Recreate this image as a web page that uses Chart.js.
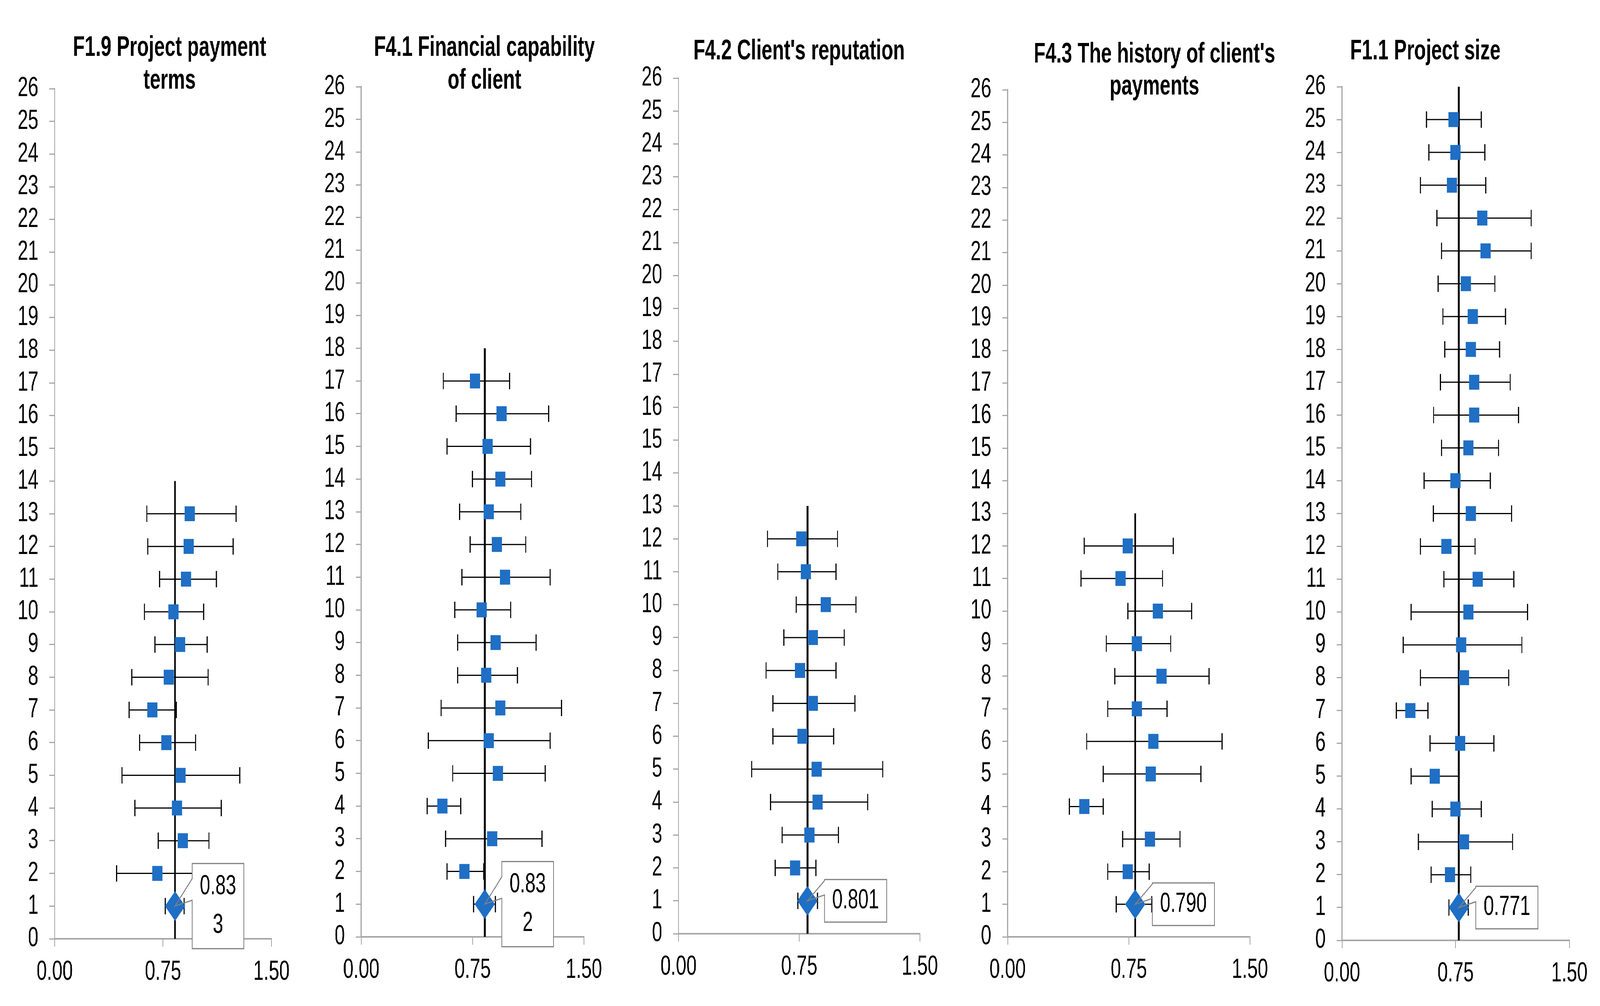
<!DOCTYPE html>
<html>
<head>
<meta charset="utf-8">
<script src="https://cdn.jsdelivr.net/npm/chart.js@4.4.1/dist/chart.umd.min.js"></script>
<style>
html,body{margin:0;padding:0;background:#ffffff;width:100%;height:100%;overflow:hidden}
#stage{position:absolute;left:0;top:0;width:6001px;height:2575px;transform-origin:0 0;background:#ffffff}
#stage canvas{position:absolute;top:0}
</style>
</head>
<body>
<div id="stage"></div>
<script>
// ---------- DATA ----------
const titles = [
  ["F1.9 Project payment", "terms"],
  ["F4.1 Financial capability", "of client"],
  ["F4.2 Client's reputation"],
  ["F4.3 The history of client's", "payments"],
  ["F1.1 Project size"]
];
const meanLabels = ["0.833", "0.832", "0.801", "0.790", "0.771"];
const xTickLabels = ["0.00", "0.75", "1.50"];
const xMin = 0, xMax = 1.5, xStep = 0.75;
const yMin = 0, yMax = 26;

// row 1 = overall (diamond), rows 2..N = items (squares)
const means1 = [0.833, 0.710, 0.886, 0.847, 0.871, 0.773, 0.677, 0.790, 0.869, 0.823, 0.910, 0.927, 0.935];
const lo1    = [0.765, 0.428, 0.717, 0.555, 0.466, 0.588, 0.515, 0.533, 0.694, 0.621, 0.727, 0.645, 0.638];
const hi1    = [0.896, 1.000, 1.068, 1.153, 1.281, 0.975, 0.841, 1.062, 1.055, 1.031, 1.119, 1.235, 1.256];

const means2 = [0.832, 0.695, 0.882, 0.547, 0.921, 0.859, 0.937, 0.842, 0.905, 0.812, 0.968, 0.914, 0.859, 0.937, 0.852, 0.945, 0.766];
const lo2    = [0.756, 0.578, 0.568, 0.444, 0.616, 0.451, 0.538, 0.649, 0.649, 0.630, 0.678, 0.733, 0.663, 0.749, 0.578, 0.640, 0.553];
const hi2    = [0.903, 0.825, 1.218, 0.670, 1.240, 1.273, 1.349, 1.053, 1.178, 1.007, 1.273, 1.108, 1.075, 1.147, 1.140, 1.263, 0.999];

const means3 = [0.801, 0.725, 0.814, 0.864, 0.858, 0.770, 0.835, 0.756, 0.835, 0.915, 0.791, 0.763];
const lo3    = [0.741, 0.601, 0.644, 0.572, 0.455, 0.587, 0.587, 0.544, 0.655, 0.732, 0.617, 0.553];
const hi3    = [0.864, 0.854, 0.994, 1.176, 1.269, 0.964, 1.096, 0.979, 1.030, 1.103, 0.979, 0.988];

const means4 = [0.790, 0.744, 0.881, 0.475, 0.886, 0.902, 0.801, 0.953, 0.801, 0.931, 0.699, 0.744];
const lo4    = [0.672, 0.620, 0.712, 0.383, 0.592, 0.490, 0.620, 0.664, 0.611, 0.744, 0.455, 0.474];
const hi4    = [0.893, 0.877, 1.067, 0.592, 1.196, 1.327, 0.987, 1.247, 1.010, 1.139, 0.959, 1.025];

const means5 = [0.771, 0.713, 0.805, 0.749, 0.612, 0.780, 0.451, 0.805, 0.787, 0.834, 0.895, 0.689, 0.850, 0.749, 0.834, 0.872, 0.872, 0.850, 0.864, 0.817, 0.948, 0.926, 0.726, 0.749, 0.737];
const lo5    = [0.706, 0.588, 0.504, 0.596, 0.457, 0.581, 0.359, 0.518, 0.404, 0.457, 0.673, 0.518, 0.603, 0.542, 0.657, 0.605, 0.650, 0.679, 0.666, 0.635, 0.657, 0.626, 0.518, 0.574, 0.558];
const hi5    = [0.834, 0.850, 1.126, 0.919, 0.771, 1.002, 0.568, 1.100, 1.187, 1.224, 1.134, 0.878, 1.119, 0.979, 1.033, 1.164, 1.110, 1.040, 1.079, 1.009, 1.248, 1.248, 0.948, 0.942, 0.919];

const panelMeans = [means1, means2, means3, means4, means5];
const panelLo = [lo1, lo2, lo3, lo4, lo5];
const panelHi = [hi1, hi2, hi3, hi4, hi5];

// ---------- LAYOUT / STYLE ----------
const PAGE_W = 6001, PAGE_H = 2575;
const layoutCfg = [
  {cl:0,    cw:1200, x0:205,  x1:1018, yTop:227, yBot:2403, tc:636,  tb:[143,227], wrap:4},
  {cl:1200, cw:1200, x0:1355, x1:2190, yTop:222, yBot:2398, tc:1817, tb:[143,227], wrap:4},
  {cl:2400, cw:1200, x0:2545, x1:3450, yTop:200, yBot:2390, tc:2997, tb:[152],     wrap:0},
  {cl:3600, cw:1200, x0:3779, x1:4688, yTop:230, yBot:2398, tc:4330, tb:[160,242], wrap:0},
  {cl:4800, cw:1201, x0:5033, x1:5886, yTop:222, yBot:2407, tc:5346, tb:[152],     wrap:0}
];
const FONT = '"Liberation Sans", Arial, Helvetica, sans-serif';
const TICK_SIZE = 70;
const TITLE_SIZE = 72;
const BLUE = '#1f6fc5';
const AXIS_GRAY = '#a6a6a6';

// fit the 6001x2575 design into whatever viewport the browser really has
const stage = document.getElementById('stage');
const sx = (window.innerWidth || PAGE_W) / PAGE_W;
const sy = (window.innerHeight || PAGE_H) / PAGE_H;
stage.style.transform = 'scale(' + sx + ',' + sy + ')';

Chart.defaults.font.family = FONT;

function wrapText(s, n) {
  if (!n) return [s];
  const out = [];
  for (let i = 0; i < s.length; i += n) out.push(s.slice(i, i + n));
  return out;
}

const titlePlugin = {
  id: 'panelTitle',
  afterDraw(chart, args, opts) {
    const ctx = chart.ctx;
    ctx.save();
    ctx.font = 'bold ' + TITLE_SIZE + 'px ' + FONT;
    ctx.fillStyle = '#000';
    ctx.textAlign = 'center';
    ctx.textBaseline = 'alphabetic';
    opts.lines.forEach((t, k) => ctx.fillText(t, opts.cx, opts.baselines[k]));
    ctx.restore();
  }
};

const calloutPlugin = {
  id: 'meanCallout',
  afterDraw(chart, args, opts) {
    const ctx = chart.ctx;
    const px = chart.scales.x.getPixelForValue(opts.x);
    const py = chart.scales.y.getPixelForValue(opts.y);
    ctx.save();
    ctx.font = TICK_SIZE + 'px ' + FONT;
    const lines = opts.lines;
    const tw = Math.max(...lines.map(s => ctx.measureText(s).width));
    const w = tw + 58;
    const h = lines.length * 109;
    const bx = px + 64;
    const by = py - h / 2;
    ctx.fillStyle = '#fff';
    ctx.fillRect(bx, by, w, h);
    const b1 = Math.max(by + 3, py - 70);
    const b2 = py - 15;
    ctx.beginPath();
    ctx.moveTo(bx, b1);
    ctx.lineTo(bx, by);
    ctx.lineTo(bx + w, by);
    ctx.lineTo(bx + w, by + h);
    ctx.lineTo(bx, by + h);
    ctx.lineTo(bx, b2);
    ctx.lineTo(px, py);
    ctx.lineTo(bx, b1);
    ctx.closePath();
    ctx.strokeStyle = '#808080';
    ctx.lineWidth = 3;
    ctx.stroke();
    ctx.fillStyle = '#000';
    ctx.textAlign = 'center';
    ctx.textBaseline = 'middle';
    lines.forEach((s, k) => {
      ctx.fillText(s, bx + w / 2, py + (k - (lines.length - 1) / 2) * 99);
    });
    ctx.restore();
  }
};

layoutCfg.forEach((L, p) => {
  const cv = document.createElement('canvas');
  cv.width = L.cw; cv.height = PAGE_H;
  cv.style.left = L.cl + 'px';
  cv.style.width = L.cw + 'px';
  cv.style.height = PAGE_H + 'px';
  stage.appendChild(cv);

  const means = panelMeans[p], lo = panelLo[p], hi = panelHi[p];
  const N = means.length;
  const datasets = [];

  datasets.push({
    label: 'overall', order: 0,
    data: [{x: means[0], y: 1}],
    pointStyle: 'rectRot', pointRadius: 38, pointHoverRadius: 38,
    backgroundColor: BLUE, borderColor: BLUE, borderWidth: 0, showLine: false
  });
  datasets.push({
    label: 'items', order: 1,
    data: means.slice(1).map((m, i) => ({x: m, y: i + 2})),
    pointStyle: 'rect', pointRadius: 27, pointHoverRadius: 27,
    backgroundColor: BLUE, borderColor: BLUE, borderWidth: 0, showLine: false
  });
  for (let i = 0; i < N; i++) {
    datasets.push({
      label: 'ci' + (i + 1), order: 2,
      data: [{x: lo[i], y: i + 1}, {x: hi[i], y: i + 1}],
      showLine: true, borderColor: '#000', borderWidth: 3,
      pointStyle: 'line', pointRotation: 90, pointRadius: 21, pointHoverRadius: 21,
      pointBorderWidth: 4, pointBorderColor: '#000', pointBackgroundColor: '#000'
    });
  }
  datasets.push({
    label: 'meanLine', order: 3,
    data: [{x: means[0], y: 0}, {x: means[0], y: N + 1}],
    showLine: true, borderColor: '#000', borderWidth: 7, pointRadius: 0, pointHoverRadius: 0
  });

  new Chart(cv, {
    type: 'scatter',
    data: {datasets},
    plugins: [titlePlugin, calloutPlugin],
    options: {
      responsive: false,
      animation: false,
      devicePixelRatio: 1,
      events: [],
      layout: {padding: {left: 0, right: L.cw - (L.x1 - L.cl), top: L.yTop, bottom: 0}},
      plugins: {
        legend: {display: false},
        tooltip: {enabled: false},
        title: {display: false},
        panelTitle: {lines: titles[p], cx: L.tc - L.cl, baselines: L.tb},
        meanCallout: {x: means[0], y: 1, lines: wrapText(meanLabels[p], L.wrap)}
      },
      scales: {
        x: {
          type: 'linear', min: xMin, max: xMax,
          ticks: {
            stepSize: xStep, autoSkip: false, maxRotation: 0,
            callback: (v, i) => xTickLabels[i],
            font: {size: TICK_SIZE, family: FONT}, color: '#000', padding: 24
          },
          grid: {display: true, drawOnChartArea: false, drawTicks: true, tickLength: 20, color: AXIS_GRAY, lineWidth: 3},
          border: {display: true, color: AXIS_GRAY, width: 4},
          afterFit: s => { s.height = PAGE_H - L.yBot; }
        },
        y: {
          type: 'linear', min: yMin, max: yMax,
          ticks: {
            stepSize: 1, autoSkip: false,
            font: {size: TICK_SIZE, family: FONT}, color: '#000', padding: 41
          },
          grid: {display: true, drawOnChartArea: false, drawTicks: true, tickLength: 20, color: AXIS_GRAY, lineWidth: 3},
          border: {display: true, color: AXIS_GRAY, width: 4},
          afterFit: s => { s.width = L.x0 - L.cl; }
        }
      }
    }
  });
});
</script>
</body>
</html>
